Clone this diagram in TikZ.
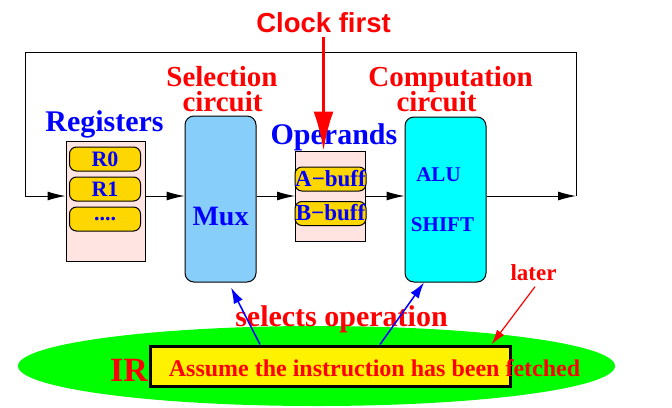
\documentclass[tikz,border=0pt]{standalone}
\usepackage{fontspec}
\setmainfont{Liberation Serif}
\newfontfamily\clockfont{Liberation Sans}
\usetikzlibrary{arrows.meta}
\definecolor{regpink}{RGB}{255,228,225}
\definecolor{pillgold}{RGB}{255,215,0}
\definecolor{muxblue}{RGB}{135,206,250}
\definecolor{alucyan}{RGB}{0,255,255}
\definecolor{irgreen}{RGB}{0,255,0}
\tikzset{>={Latex[length=18pt,width=9pt]}}
\tikzset{
  flow/.style={->, line width=1pt},
  txt/.style={anchor=base, inner sep=0pt, font=\fontsize{#1pt}{#1pt}\selectfont\bfseries},
  regbox/.style={draw, fill=regpink, line width=1pt},
  pill/.style={draw, fill=pillgold, rounded corners=7pt, minimum width=71pt, minimum height=24pt,
    inner sep=0pt, text height=14pt, text depth=0pt, text=blue, font=\fontsize{22pt}{22pt}\selectfont\bfseries},
  bigbox/.style={draw, rounded corners=9pt, line width=1pt}
}

\begin{document}
\begin{tikzpicture}[x=1pt, y=-1pt, line width=1pt]
\useasboundingbox (0,0) rectangle (672,407);
% register file and operand buffers
\node[regbox, minimum width=79pt, minimum height=120pt] (regs) at (105.5,201) {};
\node[pill] (r0) at (105,159) {R0};
\node[pill] (r1) at (105,189) {R1};
\node[pill, text height=2pt] (rdots) at (105,219) {....};
\node[bigbox, fill=muxblue, minimum width=71pt, minimum height=166pt] (mux) at (220.5,199) {};
\node[regbox, minimum width=70pt, minimum height=90pt] (ops) at (330.5,196) {};
\node[pill, font=\fontsize{23pt}{23pt}\selectfont\bfseries] (abuf) at (330.5,179) {A−buff};
\node[pill, font=\fontsize{23pt}{23pt}\selectfont\bfseries] (bbuf) at (330.5,213.5) {B−buff};
\node[bigbox, fill=alucyan, minimum width=81pt, minimum height=165pt] (alu) at (445.5,199.5) {};

\node[txt=28, text=blue] (muxtxt) at (220.5,225) {Mux};
\node[txt=21, text=blue] (alutxt) at (438.5,181) {ALU};
\node[txt=21, text=blue] (shifttxt) at (442.5,231) {SHIFT};
\node[txt=30, text=blue] (regslbl) at (104.5,131) {Registers};
\node[txt=30, text=blue] (opslbl) at (334,144) {Operands};
\node[txt=29, text=red] (sel1) at (222,86) {Selection};
\node[txt=29, text=red] (sel2) at (222.5,111) {circuit};
\node[txt=29, text=red] (comp1) at (450.5,86) {Computation};
\node[txt=29, text=red] (comp2) at (436.5,111) {circuit};

% data path with feedback loop
\coordinate (loopL) at (25,196);
\coordinate (loopR) at (576,196);
\coordinate (loopT) at (25,52);
\draw (loopR) |- (loopT) -- (loopL);
\draw[flow] (loopL) -- (regs.west |- loopL);
\draw[flow] (regs.east |- loopL) -- (mux.west |- loopL);
\draw[flow] (mux.east |- loopL) -- (ops.west |- loopL);
\draw[flow] (ops.east |- loopL) -- (alu.west |- loopL);
\draw[flow] (alu.east |- loopL) -- (loopR);

\node[txt=27.5, text=red, font=\clockfont\fontsize{27.5pt}{27.5pt}\selectfont\bfseries] (clock) at (323.5,32) {Clock first};
\draw[red, line width=3pt, -{Latex[length=39pt,width=20pt]}] ([yshift=-4pt]clock.south) -- (clock.south |- ops.north);

% instruction register
\fill[irgreen] (316.5,366) ellipse [x radius=298.5pt, y radius=40pt];
\node[draw, fill=yellow, line width=3pt, minimum width=360pt, minimum height=40pt] (note) at (330,366) {};
\node[txt=34, text=red] (ir) at (129,381) {IR};
\node[txt=24, text=red] (assume) at (374.5,376) {Assume the instruction has been fetched};
\node[txt=30, text=red] (selops) at (341.5,326) {selects operation};
\node[txt=23, text=red] (later) at (533.5,280) {later};
\draw[blue, line width=1.5pt, -{Latex[length=16pt,width=10pt]}] ([xshift=-70pt]note.north) -- ([xshift=10.5pt,yshift=-5pt]mux.south);
\draw[blue, line width=1.5pt, -{Latex[length=16pt,width=10pt]}] ([xshift=50pt]note.north) -- ([xshift=-21.5pt]alu.south);
\draw[red, line width=1.2pt, -{Latex[length=15pt,width=9pt]}] ([xshift=1.5pt,yshift=-6pt]later.south) -- ([xshift=-20pt]note.north east);
\end{tikzpicture}
\end{document}
